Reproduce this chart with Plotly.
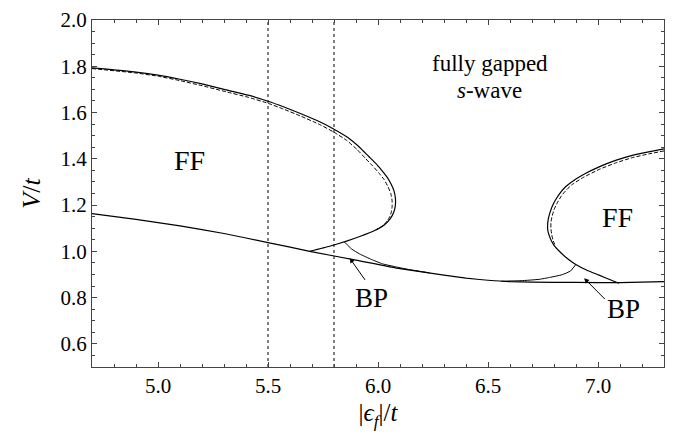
import plotly.graph_objects as go

# ---- data ----
lower_x = [4.7, 4.9, 5.1, 5.3, 5.5, 5.69, 5.9, 6.1, 6.3, 6.4, 6.5, 6.6, 6.8, 7.0, 7.1, 7.3]
lower_y = [1.163, 1.138, 1.110, 1.077, 1.038, 1.000, 0.962, 0.925, 0.897, 0.884, 0.875, 0.869, 0.866, 0.865, 0.865, 0.869]

ff1_x = [4.7, 4.9, 5.0, 5.1, 5.2, 5.3, 5.41, 5.5, 5.57, 5.65, 5.735, 5.8, 5.866, 5.916, 5.958, 5.99,
         6.017, 6.042, 6.06, 6.073, 6.079, 6.079, 6.072, 6.055, 6.03, 5.985, 5.92, 5.857, 5.78, 5.69]
ff1_y = [1.793, 1.775, 1.762, 1.744, 1.724, 1.700, 1.675, 1.649, 1.625, 1.595, 1.560, 1.528, 1.490, 1.450, 1.410, 1.380,
         1.350, 1.320, 1.290, 1.260, 1.230, 1.200, 1.170, 1.140, 1.115, 1.090, 1.065, 1.044, 1.022, 1.000]

ff1d_x = [4.7, 4.9, 5.0, 5.1, 5.2, 5.3, 5.41, 5.5, 5.57, 5.65, 5.735, 5.8, 5.86, 5.905, 5.945, 5.975,
          6.003, 6.028, 6.045, 6.058, 6.064, 6.064, 6.058, 6.045, 6.025, 5.99]
ff1d_y = [1.790, 1.771, 1.757, 1.738, 1.716, 1.692, 1.666, 1.640, 1.615, 1.584, 1.548, 1.515, 1.478, 1.440, 1.400, 1.370,
          1.340, 1.310, 1.280, 1.250, 1.220, 1.190, 1.160, 1.135, 1.113, 1.092]

ff2_x = [7.3, 7.23, 7.156, 7.08, 7.005, 6.93, 6.88, 6.854, 6.83, 6.808, 6.792, 6.781, 6.774, 6.771, 6.772,
         6.778, 6.788, 6.801, 6.83, 6.862, 6.899, 6.95, 7.005, 7.05, 7.095]
ff2_y = [1.443, 1.430, 1.415, 1.393, 1.365, 1.330, 1.300, 1.280, 1.255, 1.224, 1.195, 1.165, 1.139, 1.115, 1.090,
         1.069, 1.046, 1.025, 0.995, 0.968, 0.943, 0.918, 0.897, 0.879, 0.862]

ff2d_x = [7.3, 7.23, 7.156, 7.08, 7.005, 6.93, 6.88, 6.856, 6.834, 6.815, 6.80, 6.791, 6.786, 6.786, 6.789, 6.795, 6.803]
ff2d_y = [1.434, 1.421, 1.405, 1.382, 1.354, 1.318, 1.287, 1.265, 1.240, 1.210, 1.180, 1.150, 1.125, 1.100, 1.075, 1.050, 1.030]

bp1_x = [5.848, 5.88, 5.916, 5.97, 6.02, 6.08, 6.143, 6.234]
bp1_y = [1.040, 1.010, 0.989, 0.965, 0.946, 0.933, 0.921, 0.907]

bp2_x = [6.899, 6.875, 6.837, 6.78, 6.733, 6.65, 6.56]
bp2_y = [0.943, 0.915, 0.899, 0.887, 0.879, 0.873, 0.871]

vlines_x = [5.5, 5.8]

x_range = [4.7, 7.3]
y_range = [0.5, 2.0]

FONT = "Liberation Serif"
SM = dict(shape="spline", smoothing=0.4)

fig = go.Figure()

for vx in vlines_x:
    fig.add_trace(go.Scatter(x=[vx, vx], y=y_range, mode="lines",
                             line=dict(color="black", width=1, dash="dot"), hoverinfo="skip"))

fig.add_trace(go.Scatter(x=lower_x, y=lower_y, mode="lines", line=dict(color="black", width=1.2, **SM)))
fig.add_trace(go.Scatter(x=ff1d_x, y=ff1d_y, mode="lines",
                         line=dict(color="black", width=1, dash="4px,2px", **SM)))
fig.add_trace(go.Scatter(x=ff1_x, y=ff1_y, mode="lines", line=dict(color="black", width=1.2, **SM)))
fig.add_trace(go.Scatter(x=ff2d_x, y=ff2d_y, mode="lines",
                         line=dict(color="black", width=1, dash="4px,2px", **SM)))
fig.add_trace(go.Scatter(x=ff2_x, y=ff2_y, mode="lines", line=dict(color="black", width=1.2, **SM)))
fig.add_trace(go.Scatter(x=bp1_x, y=bp1_y, mode="lines", line=dict(color="black", width=1, **SM)))
fig.add_trace(go.Scatter(x=bp2_x, y=bp2_y, mode="lines", line=dict(color="black", width=1, **SM)))

ann = []
ann.append(dict(x=5.145, y=1.392, text="FF", showarrow=False, font=dict(family=FONT, size=28, color="black")))
ann.append(dict(x=7.087, y=1.146, text="FF", showarrow=False, font=dict(family=FONT, size=28, color="black")))
ann.append(dict(x=6.51, y=1.81, text="fully gapped", showarrow=False, font=dict(family=FONT, size=23, color="black")))
ann.append(dict(x=6.505, y=1.695, text="<i>s</i>-wave", showarrow=False, font=dict(family=FONT, size=23, color="black")))
ann.append(dict(x=5.969, y=0.799, text="BP", showarrow=False, font=dict(family=FONT, size=27, color="black")))
ann.append(dict(x=7.118, y=0.749, text="BP", showarrow=False, font=dict(family=FONT, size=27, color="black")))
ann.append(dict(x=5.871, y=0.971, ax=5.946, ay=0.870, axref="x", ayref="y", text="",
                showarrow=True, arrowhead=2, arrowsize=1, arrowwidth=1, arrowcolor="black"))
ann.append(dict(x=6.937, y=0.884, ax=7.038, ay=0.787, axref="x", ayref="y", text="",
                showarrow=True, arrowhead=2, arrowsize=1, arrowwidth=1, arrowcolor="black"))

axis_common = dict(showline=True, linecolor="#444", linewidth=1.2, mirror="allticks",
                   ticks="inside", tickcolor="#444", tickwidth=1, showgrid=False, zeroline=False,
                   tickfont=dict(family=FONT, size=21, color="black"), tickformat=".1f")

fig.update_layout(
    width=673, height=433,
    margin=dict(l=92, r=8, t=14, b=66),
    paper_bgcolor="white", plot_bgcolor="white",
    font=dict(family=FONT, color="black"),
    showlegend=False,
    annotations=ann,
    xaxis=dict(axis_common, range=x_range, dtick=0.5, tick0=5.0, ticklen=5,
               minor=dict(dtick=0.1, ticklen=3, ticks="inside", tickcolor="#444", showgrid=False),
               title=dict(text="|<i>ϵ<sub>f</sub></i>|/<i>t</i>", font=dict(family=FONT, size=25, color="black"), standoff=6)),
    yaxis=dict(axis_common, range=y_range, dtick=0.2, tick0=0.6, ticklen=5,
               minor=dict(dtick=0.05, ticklen=3, ticks="inside", tickcolor="#444", showgrid=False),
               title=dict(text="<i>V</i>/<i>t</i>", font=dict(family=FONT, size=26, color="black"), standoff=12)),
)

fig.write_html("out.html")
